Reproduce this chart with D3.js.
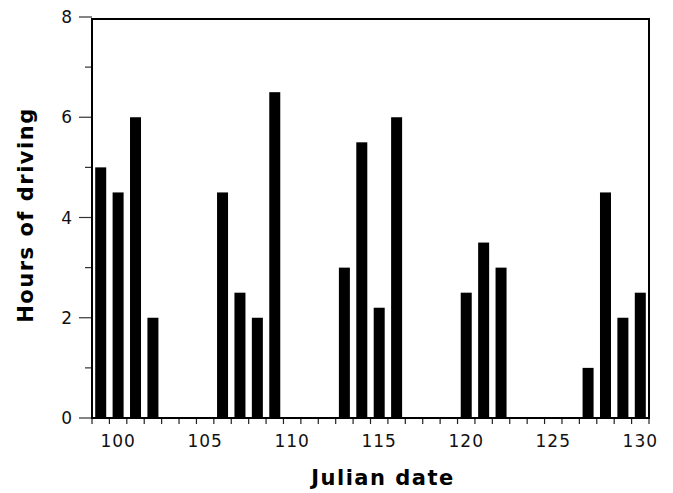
<!DOCTYPE html>
<html>
<head>
<meta charset="utf-8">
<script src="https://cdn.jsdelivr.net/npm/d3@7"></script>
<style>
  html, body { margin: 0; padding: 0; background: #fff; }
  svg { display: block; }
</style>
</head>
<body>
<svg id="chart" width="673" height="493"></svg>
<script>
const days  = [99, 100, 101, 102, 106, 107, 108, 109, 113, 114, 115, 116, 120, 121, 122, 127, 128, 129, 130];
const hours = [5, 4.5, 6, 2, 4.5, 2.5, 2, 6.5, 3, 5.5, 2.2, 6, 2.5, 3.5, 3, 1, 4.5, 2, 2.5];
const xLabels = [100, 105, 110, 115, 120, 125, 130];
const yMajor = [0, 2, 4, 6, 8];
const yMinor = [1, 3, 5, 7];
const xTitle = "Julian date";
const yTitle = "Hours of driving";

(function () {
const svg = d3.select("#chart");
const pL = 92, pR = 649, pT = 19, pB = 418;

const x = d3.scaleLinear().domain([98.5, 130.5]).range([pL, pR]);
const y = d3.scaleLinear().domain([0, 8]).range([pB, 17]);

const data = days.map((d, i) => ({ day: d, h: hours[i] }));
const bw = 11;

svg.append("g").selectAll("rect").data(data).join("rect")
  .attr("x", d => x(d.day) - bw / 2)
  .attr("width", bw)
  .attr("y", d => y(d.h))
  .attr("height", d => y(0) - y(d.h))
  .attr("fill", "#000");

// x ticks at half-integers
const xTicks = d3.range(98.5, 131, 1);
svg.append("g").selectAll("line").data(xTicks).join("line")
  .attr("x1", d => x(d)).attr("x2", d => x(d))
  .attr("y1", pB).attr("y2", pB + 6)
  .attr("stroke", "#222").attr("stroke-width", 1.2);

svg.append("g").selectAll("text").data(xLabels).join("text")
  .attr("x", d => x(d)).attr("y", 447)
  .attr("text-anchor", "middle")
  .attr("font-family", "DejaVu Sans, sans-serif")
  .attr("font-size", 17).attr("letter-spacing", 1)
  .attr("fill", "#111")
  .text(d => d);

// y ticks
svg.append("g").selectAll("line").data(yMajor).join("line")
  .attr("x1", pL - 13).attr("x2", pL)
  .attr("y1", d => y(d)).attr("y2", d => y(d))
  .attr("stroke", "#333").attr("stroke-width", 1.2);
svg.append("g").selectAll("line").data(yMinor).join("line")
  .attr("x1", pL - 7).attr("x2", pL)
  .attr("y1", d => y(d)).attr("y2", d => y(d))
  .attr("stroke", "#333").attr("stroke-width", 1.2);

svg.append("g").selectAll("text").data(yMajor).join("text")
  .attr("x", 72).attr("y", d => y(d) + 6)
  .attr("text-anchor", "end")
  .attr("font-family", "DejaVu Sans, sans-serif")
  .attr("font-size", 17)
  .attr("fill", "#111")
  .text(d => d);

// frame
svg.append("path")
  .attr("d", `M${pL},${pB}V${pT}H${pR}V${pB}Z`)
  .attr("fill", "none").attr("stroke", "#000").attr("stroke-width", 2);

// titles
svg.append("text")
  .attr("x", 383).attr("y", 485)
  .attr("text-anchor", "middle")
  .attr("font-family", "DejaVu Sans, sans-serif")
  .attr("font-weight", "bold")
  .attr("font-size", 21).attr("letter-spacing", 1.5)
  .text(xTitle);

svg.append("text")
  .attr("transform", "translate(33,215) rotate(-90)")
  .attr("text-anchor", "middle")
  .attr("font-family", "DejaVu Sans, sans-serif")
  .attr("font-weight", "bold")
  .attr("font-size", 21).attr("letter-spacing", 1.5)
  .text(yTitle);
})();
</script>
</body>
</html>
